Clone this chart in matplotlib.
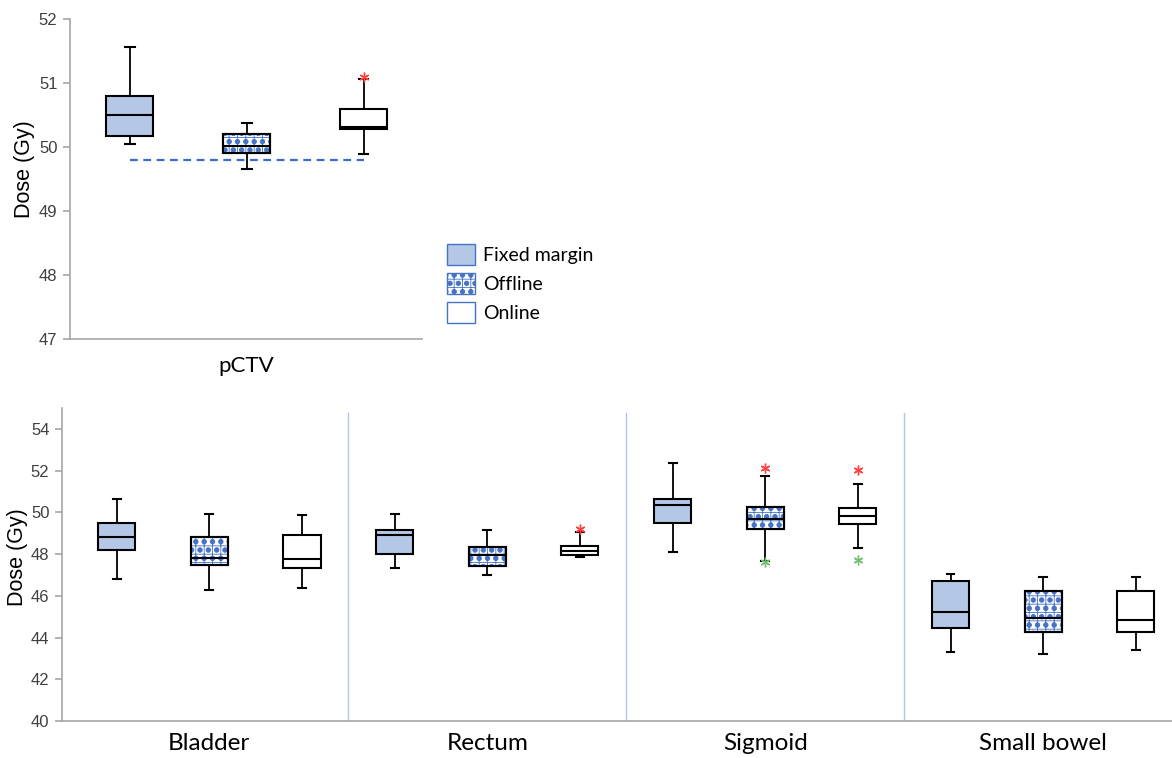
import matplotlib
matplotlib.use('Agg')
import matplotlib.pyplot as plt
import matplotlib.hatch as mhatch
from matplotlib.patches import Patch

# ---------------- data ----------------
methods = ['Fixed margin', 'Offline', 'Online']
organs = ['Bladder', 'Rectum', 'Sigmoid', 'Small bowel']

# pCTV (top panel)
pctv_whislo = [50.04, 49.66, 49.89]
pctv_q1 = [50.17, 49.90, 50.285]
pctv_med = [50.50, 50.02, 50.32]
pctv_q3 = [50.79, 50.21, 50.60]
pctv_whishi = [51.56, 50.38, 51.07]
pctv_high_fliers = [[], [], [51.09]]
pctv_low_fliers = [[], [], []]
pctv_reference = 49.8

# OARs (bottom panel), organ-major / method-minor order
oar_whislo = [46.81, 46.27, 46.36, 47.32, 46.98, 47.88, 48.09, 47.69, 48.31, 43.30, 43.23, 43.41]
oar_q1 = [48.21, 47.48, 47.35, 47.99, 47.43, 47.94, 49.51, 49.19, 49.46, 44.44, 44.28, 44.28]
oar_med = [48.82, 47.80, 47.74, 48.92, 47.94, 48.15, 50.33, 49.70, 49.81, 45.24, 44.95, 44.86]
oar_q3 = [49.51, 48.81, 48.92, 49.17, 48.34, 48.41, 50.64, 50.24, 50.19, 46.69, 46.24, 46.21]
oar_whishi = [50.63, 49.92, 49.86, 49.91, 49.17, 49.08, 52.37, 51.75, 51.34, 47.05, 46.91, 46.88]
oar_high_fliers = [[], [], [], [], [], [49.22], [], [52.13], [52.02], [], [], []]
oar_low_fliers = [[], [], [], [], [], [], [], [47.61], [47.71], [], [], []]

# ---------------- style ----------------
FIXED_FACE = '#b4c7e7'
BLUE = '#4472c4'
SPINE = '#a6a6a6'
DIVIDER = '#b4c7e7'
TICK_FONT = 'Liberation Sans'
LABEL_FONT = ['Lato', 'DejaVu Sans']
HATCH = '++..'

# bigger filled dots for the "Offline" pattern
mhatch.SmallFilledCircles.size = 0.27
plt.rcParams['hatch.linewidth'] = 0.6
plt.rcParams['hatch.color'] = BLUE

fig = plt.figure(figsize=(11.72, 7.58), dpi=100)
ax_top = fig.add_axes([70/1172, 1-339/758, (422-70)/1172, (339-19)/758])
ax_bot = fig.add_axes([62/1172, 1-721/758, (1172-62)/1172, (721-408)/758])


def draw_boxes(ax, whislo, q1, med, q3, whishi, hi_fl, lo_fl):
    n = len(med)
    stats = []
    for i in range(n):
        stats.append(dict(whislo=whislo[i], q1=q1[i], med=med[i], q3=q3[i],
                          whishi=whishi[i], fliers=[]))
    positions = list(range(n))
    bp = ax.bxp(stats, positions=positions, widths=0.4, patch_artist=True,
                showfliers=False, capwidths=0.085,
                boxprops=dict(linewidth=1.5, edgecolor='black'),
                whiskerprops=dict(linewidth=1.3, color='black'),
                capprops=dict(linewidth=1.5, color='black'),
                medianprops=dict(linewidth=1.5, color='black'))
    for i, box in enumerate(bp['boxes']):
        m = i % 3
        if m == 0:
            box.set_facecolor(FIXED_FACE)
        elif m == 1:
            box.set_facecolor('white')
            overlay = plt.Polygon(box.get_path().vertices, closed=True,
                                  facecolor='none', edgecolor=BLUE,
                                  hatch=HATCH, linewidth=0, zorder=box.get_zorder() + 0.05)
            ax.add_patch(overlay)
            outline = plt.Polygon(box.get_path().vertices, closed=True,
                                  facecolor='none', edgecolor='black',
                                  linewidth=1.5, zorder=box.get_zorder() + 0.1)
            ax.add_patch(outline)
        else:
            box.set_facecolor('white')
    for line in bp['medians']:
        line.set_zorder(5)
    for i in range(n):
        if hi_fl[i]:
            ax.plot([positions[i]] * len(hi_fl[i]), hi_fl[i], linestyle='none',
                    marker=(6, 2, 0), markersize=7, markeredgewidth=1.0,
                    color='#ff4040', zorder=6)
        if lo_fl[i]:
            ax.plot([positions[i]] * len(lo_fl[i]), lo_fl[i], linestyle='none',
                    marker=(6, 2, 0), markersize=7, markeredgewidth=1.0,
                    color='#70c070', zorder=6)


def style_axis(ax, xsize, xpad):
    for s in ['top', 'right']:
        ax.spines[s].set_visible(False)
    for s in ['left', 'bottom']:
        ax.spines[s].set_color(SPINE)
        ax.spines[s].set_linewidth(1.2)
    ax.tick_params(axis='y', direction='out', length=5, color=SPINE, width=1.2,
                   labelsize=12, labelcolor='#404040', pad=4)
    ax.tick_params(axis='x', length=0, labelsize=xsize, labelcolor='black', pad=xpad)
    for lab in ax.get_yticklabels():
        lab.set_fontfamily(TICK_FONT)
    for lab in ax.get_xticklabels():
        lab.set_fontfamily(LABEL_FONT)


# ---- top panel ----
draw_boxes(ax_top, pctv_whislo, pctv_q1, pctv_med, pctv_q3, pctv_whishi,
           pctv_high_fliers, pctv_low_fliers)
ax_top.plot([0, 2], [pctv_reference, pctv_reference], linestyle=(0, (3.5, 2.5)),
            color='#3a6ccc', linewidth=1.6, zorder=1)
ax_top.set_xlim(-0.51, 2.5)
ax_top.set_ylim(47, 52)
ax_top.set_yticks([47, 48, 49, 50, 51, 52])
ax_top.set_xticks([1])
ax_top.set_xticklabels(['pCTV'])
ax_top.set_ylabel('Dose (Gy)', fontsize=15.5, fontfamily=TICK_FONT, color='black')
ax_top.yaxis.set_label_coords(-0.1, 0.53)
style_axis(ax_top, 16, 12)

# ---- bottom panel ----
draw_boxes(ax_bot, oar_whislo, oar_q1, oar_med, oar_q3, oar_whishi,
           oar_high_fliers, oar_low_fliers)
for xd in [2.5, 5.5, 8.5]:
    ax_bot.axvline(xd, ymin=0, ymax=0.985, color=DIVIDER, linewidth=1.0, zorder=0)
ax_bot.set_xlim(-0.59, 11.39)
ax_bot.set_ylim(40, 55)
ax_bot.set_yticks([40, 42, 44, 46, 48, 50, 52, 54])
ax_bot.set_xticks([1.0, 4.0, 7.0, 10.0])
ax_bot.set_xticklabels(organs)
ax_bot.set_ylabel('Dose (Gy)', fontsize=15.5, fontfamily=TICK_FONT, color='black')
ax_bot.yaxis.set_label_coords(-0.031, 0.524)
style_axis(ax_bot, 17.5, 9)

# ---- legend ----
handles = [
    Patch(facecolor=FIXED_FACE, edgecolor=BLUE, linewidth=1.0),
    Patch(facecolor='white', edgecolor=BLUE, hatch=HATCH, linewidth=1.0),
    Patch(facecolor='white', edgecolor=BLUE, linewidth=1.0),
]
fig.legend(handles, methods, loc='upper left', bbox_to_anchor=(443/1172, 1-240/758),
           frameon=False, prop={'family': LABEL_FONT, 'size': 14},
           handlelength=1.45, handleheight=1.3, labelspacing=0.4, handletextpad=0.4,
           borderaxespad=0, borderpad=0.2)

fig.savefig('out.png', dpi=100)
